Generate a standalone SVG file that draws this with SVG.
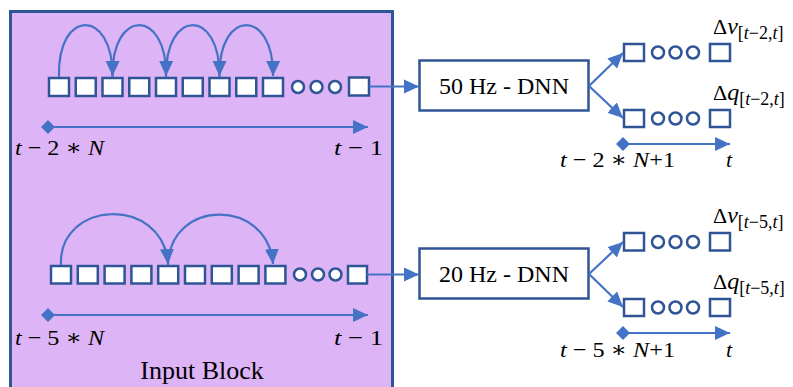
<svg xmlns="http://www.w3.org/2000/svg" width="793" height="387" viewBox="0 0 793 387">
<style>
.sq{fill:#fff;stroke:#2F5597;stroke-width:2.5}
.osq{fill:none;stroke:#2F5597;stroke-width:2.5}
.dot{fill:#fff;stroke:#2F5597;stroke-width:2.5}
.odot{fill:none;stroke:#2F5597;stroke-width:2.5}
.ln{fill:none;stroke:#4472C4;stroke-width:2.2}
text{font-family:'Liberation Serif','Times New Roman',Tinos,'DejaVu Serif',serif;fill:#000}
.lbl{font-size:24px}
.m{font-size:22px}
.i{font-style:italic}
.sub{font-size:18px}
</style>
<defs>
<marker id="ah" markerUnits="userSpaceOnUse" markerWidth="16" markerHeight="16" viewBox="0 0 16 16" refX="15" refY="8" orient="auto">
<path d="M0,1 L15,8 L0,15 Z" fill="#4472C4"/>
</marker>
<marker id="dm" markerUnits="userSpaceOnUse" markerWidth="14" markerHeight="14" viewBox="0 0 14 14" refX="7" refY="7" orient="auto">
<path d="M0,7 L7,0 L14,7 L7,14 Z" fill="#4472C4"/>
</marker>
</defs>

<g id="input-block">
<rect x="10.5" y="11.5" width="382" height="390" fill="#DDB4F6" stroke="#2F5597" stroke-width="3"/>
<text x="202" y="379" text-anchor="middle" font-size="26">Input Block</text>
</g>

<g id="seq-50">
<rect class="sq" x="49" y="78" width="20" height="18"/>
<rect class="sq" x="75.75" y="78" width="20" height="18"/>
<rect class="sq" x="102.5" y="78" width="20" height="18"/>
<rect class="sq" x="129.25" y="78" width="20" height="18"/>
<rect class="sq" x="156" y="78" width="20" height="18"/>
<rect class="sq" x="182.75" y="78" width="20" height="18"/>
<rect class="sq" x="209.5" y="78" width="20" height="18"/>
<rect class="sq" x="236.25" y="78" width="20" height="18"/>
<rect class="sq" x="263" y="78" width="20" height="18"/>
<circle class="dot" cx="298" cy="87" r="6"/>
<circle class="dot" cx="316.5" cy="87" r="6"/>
<circle class="dot" cx="335" cy="87" r="6"/>
<rect class="sq" x="349" y="77.5" width="20" height="18"/>
</g>

<g id="seq-20">
<rect class="sq" x="51" y="266" width="20" height="17.5"/>
<rect class="sq" x="77.8" y="266" width="20" height="17.5"/>
<rect class="sq" x="104.6" y="266" width="20" height="17.5"/>
<rect class="sq" x="131.4" y="266" width="20" height="17.5"/>
<rect class="sq" x="158.2" y="266" width="20" height="17.5"/>
<rect class="sq" x="185" y="266" width="20" height="17.5"/>
<rect class="sq" x="211.8" y="266" width="20" height="17.5"/>
<rect class="sq" x="238.6" y="266" width="20" height="17.5"/>
<rect class="sq" x="265.4" y="266" width="20" height="17.5"/>
<circle class="dot" cx="300" cy="274.5" r="6"/>
<circle class="dot" cx="318" cy="274.5" r="6"/>
<circle class="dot" cx="335.5" cy="274.5" r="6"/>
<rect class="sq" x="348" y="266" width="19" height="17.5"/>
</g>

<g id="time-50-in">
<text class="m" x="15" y="155" textLength="89" lengthAdjust="spacingAndGlyphs"><tspan class="i">t</tspan> − 2 ∗ <tspan class="i">N</tspan></text>
<text class="m" x="334" y="155" textLength="49" lengthAdjust="spacingAndGlyphs"><tspan class="i">t</tspan> − 1</text>
</g>
<g id="time-20-in">
<text class="m" x="15" y="345" textLength="89" lengthAdjust="spacingAndGlyphs"><tspan class="i">t</tspan> − 5 ∗ <tspan class="i">N</tspan></text>
<text class="m" x="334" y="345" textLength="49" lengthAdjust="spacingAndGlyphs"><tspan class="i">t</tspan> − 1</text>
</g>

<g id="dnn-50">
<rect x="419.5" y="60.5" width="169" height="50" fill="#fff" stroke="#2F5597" stroke-width="2.5"/>
<text class="lbl" x="504" y="94" text-anchor="middle">50 Hz - DNN</text>
</g>
<g id="dnn-20">
<rect x="419.5" y="248.5" width="169" height="50" fill="#fff" stroke="#2F5597" stroke-width="2.5"/>
<text class="lbl" x="504" y="282" text-anchor="middle">20 Hz - DNN</text>
</g>

<g id="out-50-v">
<rect class="osq" x="624" y="44" width="20" height="17"/>
<circle class="odot" cx="658" cy="52.5" r="6"/>
<circle class="odot" cx="675.5" cy="52.5" r="6"/>
<circle class="odot" cx="693" cy="52.5" r="6"/>
<rect class="osq" x="710" y="44" width="20" height="17"/>
<text class="m" x="713" y="34"><tspan font-size="22">Δ</tspan><tspan class="i" font-size="24">v</tspan><tspan class="sub" dy="5">[<tspan class="i">t</tspan>−2,<tspan class="i">t</tspan>]</tspan></text>
</g>
<g id="out-50-q">
<rect class="osq" x="624" y="110" width="20" height="17"/>
<circle class="odot" cx="658" cy="118.5" r="6"/>
<circle class="odot" cx="675.5" cy="118.5" r="6"/>
<circle class="odot" cx="693" cy="118.5" r="6"/>
<rect class="osq" x="710" y="110" width="20" height="17"/>
<text class="m" x="713" y="100"><tspan font-size="22">Δ</tspan><tspan class="i" font-size="24">q</tspan><tspan class="sub" dy="5">[<tspan class="i">t</tspan>−2,<tspan class="i">t</tspan>]</tspan></text>
</g>
<g id="time-50-out">
<text class="m" x="560" y="167" textLength="115" lengthAdjust="spacingAndGlyphs"><tspan class="i">t</tspan> − 2 ∗ <tspan class="i">N</tspan>+1</text>
<text class="m i" x="726" y="167">t</text>
</g>

<g id="out-20-v">
<rect class="osq" x="624" y="233" width="20" height="17.5"/>
<circle class="odot" cx="658" cy="242" r="6"/>
<circle class="odot" cx="675.5" cy="242" r="6"/>
<circle class="odot" cx="693" cy="242" r="6"/>
<rect class="osq" x="710" y="233" width="20" height="17.5"/>
<text class="m" x="713" y="223"><tspan font-size="22">Δ</tspan><tspan class="i" font-size="24">v</tspan><tspan class="sub" dy="5">[<tspan class="i">t</tspan>−5,<tspan class="i">t</tspan>]</tspan></text>
</g>
<g id="out-20-q">
<rect class="osq" x="624" y="299" width="20" height="17"/>
<circle class="odot" cx="658" cy="307.5" r="6"/>
<circle class="odot" cx="675.5" cy="307.5" r="6"/>
<circle class="odot" cx="693" cy="307.5" r="6"/>
<rect class="osq" x="710" y="299" width="20" height="17"/>
<text class="m" x="713" y="289"><tspan font-size="22">Δ</tspan><tspan class="i" font-size="24">q</tspan><tspan class="sub" dy="5">[<tspan class="i">t</tspan>−5,<tspan class="i">t</tspan>]</tspan></text>
</g>
<g id="time-20-out">
<text class="m" x="560" y="357" textLength="115" lengthAdjust="spacingAndGlyphs"><tspan class="i">t</tspan> − 5 ∗ <tspan class="i">N</tspan>+1</text>
<text class="m i" x="726" y="357">t</text>
</g>

<g id="connectors">
<path class="ln" d="M59,77 C57,8 113,8 112.5,76" marker-end="url(#ah)"/>
<path class="ln" d="M112.5,77 C111,8 167,8 166,76" marker-end="url(#ah)"/>
<path class="ln" d="M166,77 C165,8 220,8 219.5,76" marker-end="url(#ah)"/>
<path class="ln" d="M219.5,77 C218,8 274,8 273,76" marker-end="url(#ah)"/>
<path class="ln" d="M61,265 C58,200 163,195 168,264" marker-end="url(#ah)"/>
<path class="ln" d="M168,265 C170,198 268,198 273,264" marker-end="url(#ah)"/>
<line class="ln" x1="48" y1="127" x2="368" y2="127" marker-start="url(#dm)" marker-end="url(#ah)"/>
<line class="ln" x1="48" y1="315" x2="368" y2="315" marker-start="url(#dm)" marker-end="url(#ah)"/>
<line class="ln" x1="369" y1="86.5" x2="419" y2="86.5" marker-end="url(#ah)"/>
<line class="ln" x1="367" y1="274.5" x2="419" y2="274.5" marker-end="url(#ah)"/>
<line class="ln" x1="589" y1="86" x2="623" y2="53" marker-end="url(#ah)"/>
<line class="ln" x1="589" y1="86" x2="623" y2="118" marker-end="url(#ah)"/>
<line class="ln" x1="589" y1="274" x2="623" y2="242" marker-end="url(#ah)"/>
<line class="ln" x1="589" y1="274" x2="623" y2="307" marker-end="url(#ah)"/>
<line class="ln" x1="623" y1="144" x2="730" y2="144" marker-start="url(#dm)" marker-end="url(#ah)"/>
<line class="ln" x1="623" y1="333" x2="730" y2="333" marker-start="url(#dm)" marker-end="url(#ah)"/>
</g>
</svg>
